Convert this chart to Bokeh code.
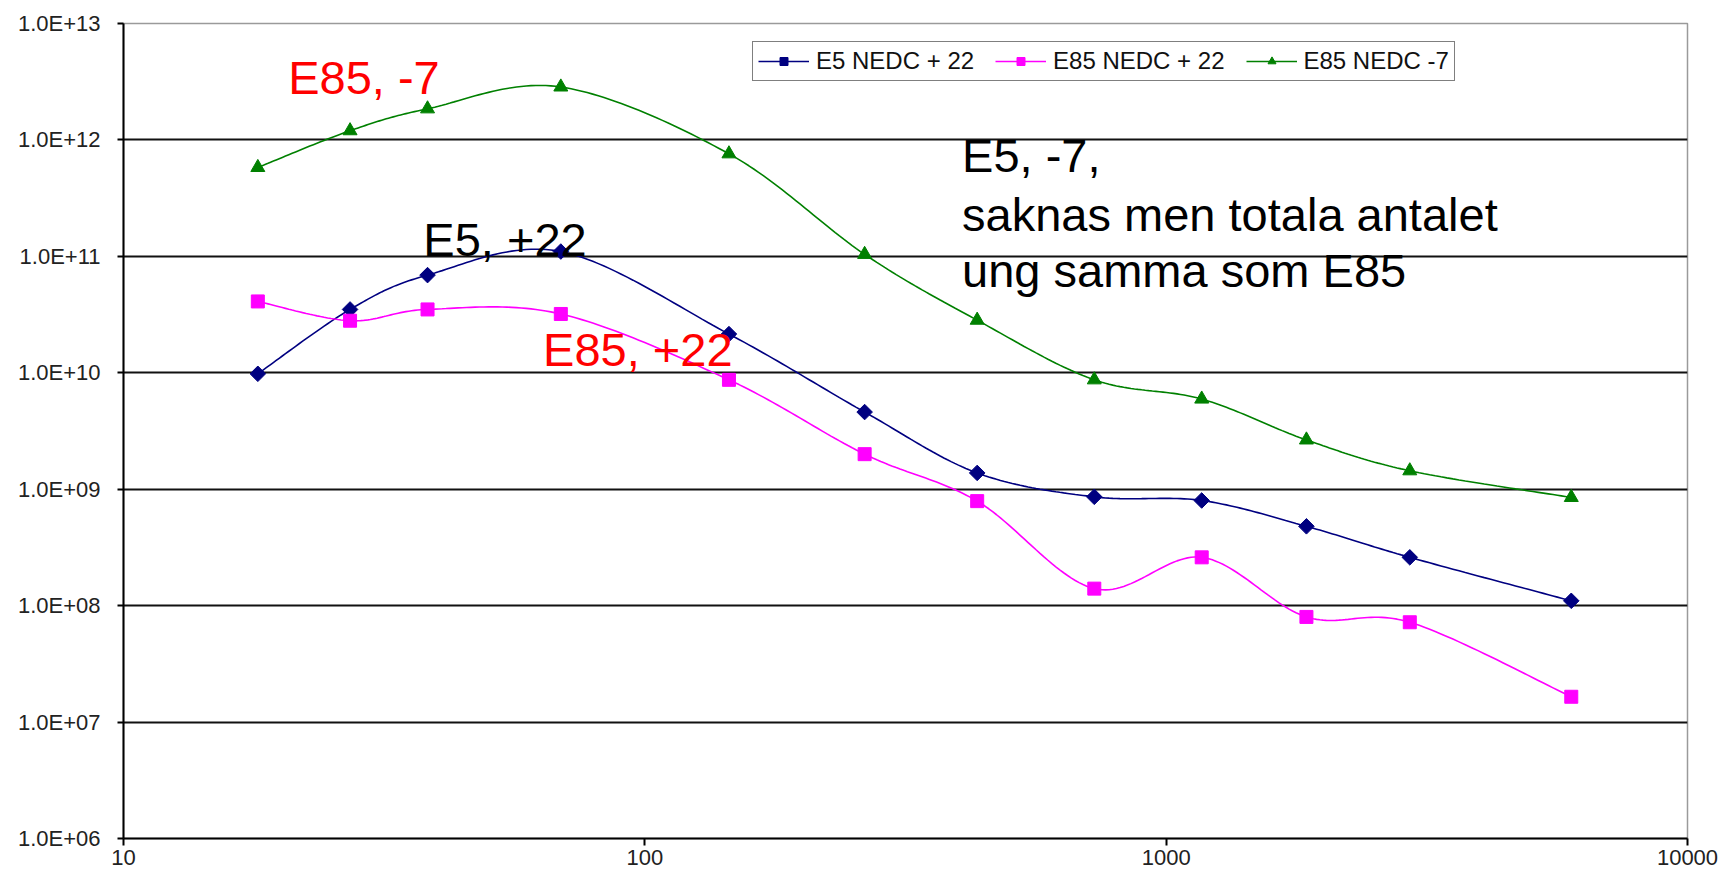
import numpy as np
from bokeh.plotting import figure
from bokeh.models import (FixedTicker, CustomJSTickFormatter, Label, Legend,
                          LegendItem, Range1d)
from bokeh.embed import file_html
from bokeh.resources import INLINE

# ---- data ----
particle_size = [18.1, 27.2, 38.3, 69.0, 145, 264, 434, 728, 1170, 1858, 2933, 5985]
e5_nedc_p22 = [9.8e9, 3.5e10, 6.9e10, 1.1e11, 2.15e10, 4.6e9, 1.38e9, 8.6e8, 8.0e8, 4.8e8, 2.6e8, 1.1e8]
e85_nedc_p22 = [4.1e10, 2.8e10, 3.5e10, 3.2e10, 8.7e9, 2.0e9, 7.9e8, 1.4e8, 2.6e8, 8.0e7, 7.2e7, 1.65e7]
e85_nedc_m7 = [5.8e11, 1.2e12, 1.85e12, 2.85e12, 7.6e11, 1.04e11, 2.83e10, 8.7e9, 5.95e9, 2.65e9, 1.44e9, 8.5e8]

series_names = ["E5 NEDC + 22", "E85 NEDC + 22", "E85 NEDC -7"]
x_ticks = [10, 100, 1000, 10000]
y_ticks = [1e6, 1e7, 1e8, 1e9, 1e10, 1e11, 1e12, 1e13]


def smooth(xs, ys, n=30):
    """Excel-like smoothed line (cubic Bezier through the points) in log-log space."""
    P = np.column_stack([np.log10(xs), np.log10(ys)])
    m = len(P)
    out = [P[0]]
    t = np.linspace(0, 1, n + 1)[1:, None]
    for i in range(m - 1):
        p0 = P[i - 1] if i > 0 else P[i]
        p1, p2 = P[i], P[i + 1]
        p3 = P[i + 2] if i + 2 < m else P[i + 1]
        c1 = p1 + (p2 - p0) / 6.0
        c2 = p2 - (p3 - p1) / 6.0
        seg = (1 - t) ** 3 * p1 + 3 * (1 - t) ** 2 * t * c1 + 3 * (1 - t) * t ** 2 * c2 + t ** 3 * p2
        out.extend(seg)
    out = np.array(out)
    return 10 ** out[:, 0], 10 ** out[:, 1]


FONT = "Liberation Sans"

p = figure(width=1718, height=875, x_axis_type="log", y_axis_type="log",
           x_range=Range1d(10, 10000), y_range=Range1d(1e6, 1e13),
           output_backend="svg", toolbar_location=None,
           min_border_left=123, min_border_right=31, min_border_top=23,
           min_border_bottom=37)
p.background_fill_color = "white"
p.border_fill_color = "white"
p.outline_line_color = "#9a9a9a"
p.outline_line_width = 1.5

# grid
p.xgrid.grid_line_color = None
p.ygrid.ticker = FixedTicker(ticks=y_ticks[:-1])
p.ygrid.grid_line_color = "#111111"
p.ygrid.grid_line_width = 2

# axes
fmt_y = CustomJSTickFormatter(code="""
const e = Math.round(Math.log10(tick));
return "1.0E+" + (e < 10 ? "0" + e : String(e));
""")
fmt_x = CustomJSTickFormatter(code="return String(Math.round(tick));")
for ax, tk, fm in [(p.xaxis[0], x_ticks, fmt_x), (p.yaxis[0], y_ticks, fmt_y)]:
    ax.ticker = FixedTicker(ticks=tk)
    ax.formatter = fm
    ax.axis_line_color = "black"
    ax.axis_line_width = 2
    ax.major_tick_line_color = "black"
    ax.major_tick_line_width = 2
    ax.major_tick_in = 0
    ax.minor_tick_line_color = None
    ax.major_label_text_font = FONT
    ax.major_label_text_font_size = "22px"
    ax.major_label_text_color = "#222222"
p.xaxis.major_tick_out = 7
p.xaxis.major_label_standoff = 4
p.yaxis.major_tick_out = 6
p.yaxis.major_label_standoff = 17

styles = [
    (e5_nedc_p22, "#000080", "square", np.pi / 4, 11),
    (e85_nedc_p22, "#FF00FF", "square", 0.0, 13),
    (e85_nedc_m7, "#008000", "triangle", 0.0, 14),
]
items = []
for name, (ys, col, mk, ang, sz) in zip(series_names, styles):
    sx, sy = smooth(particle_size, ys)
    lr = p.line(sx, sy, line_color=col, line_width=1.6)
    mr = p.scatter(particle_size, ys, marker=mk, angle=ang, size=sz,
                   fill_color=col, line_color=col)
    items.append(LegendItem(label=name, renderers=[lr, mr]))

legend = Legend(items=items, orientation="horizontal", location=(629, 757),
                label_text_font=FONT, label_text_font_size="24px",
                label_text_color="#111111",
                glyph_width=51, glyph_height=20, label_standoff=7,
                spacing=21, padding=5, margin=0,
                border_line_color="black", border_line_width=1.5,
                background_fill_color="white", background_fill_alpha=1.0)
p.add_layout(legend)

# annotations (text baseline positions in data units)
ann = [
    (20.7, 3.47e12, "E85, -7", "#FF0000"),
    (37.6, 1.40e11, "E5, +22", "black"),
    (63.8, 1.59e10, "E85, +22", "#FF0000"),
    (406, 7.34e11, "E5, -7,", "black"),
    (406, 2.30e11, "saknas men totala antalet", "black"),
    (406, 7.54e10, "ung samma som E85", "black"),
]
for x, y, txt, col in ann:
    p.add_layout(Label(x=x, y=y, text=txt, text_color=col, text_font=FONT,
                       text_font_size="47px", text_baseline="alphabetic",
                       text_align="left"))

open("out.html", "w").write(file_html(p, INLINE))
